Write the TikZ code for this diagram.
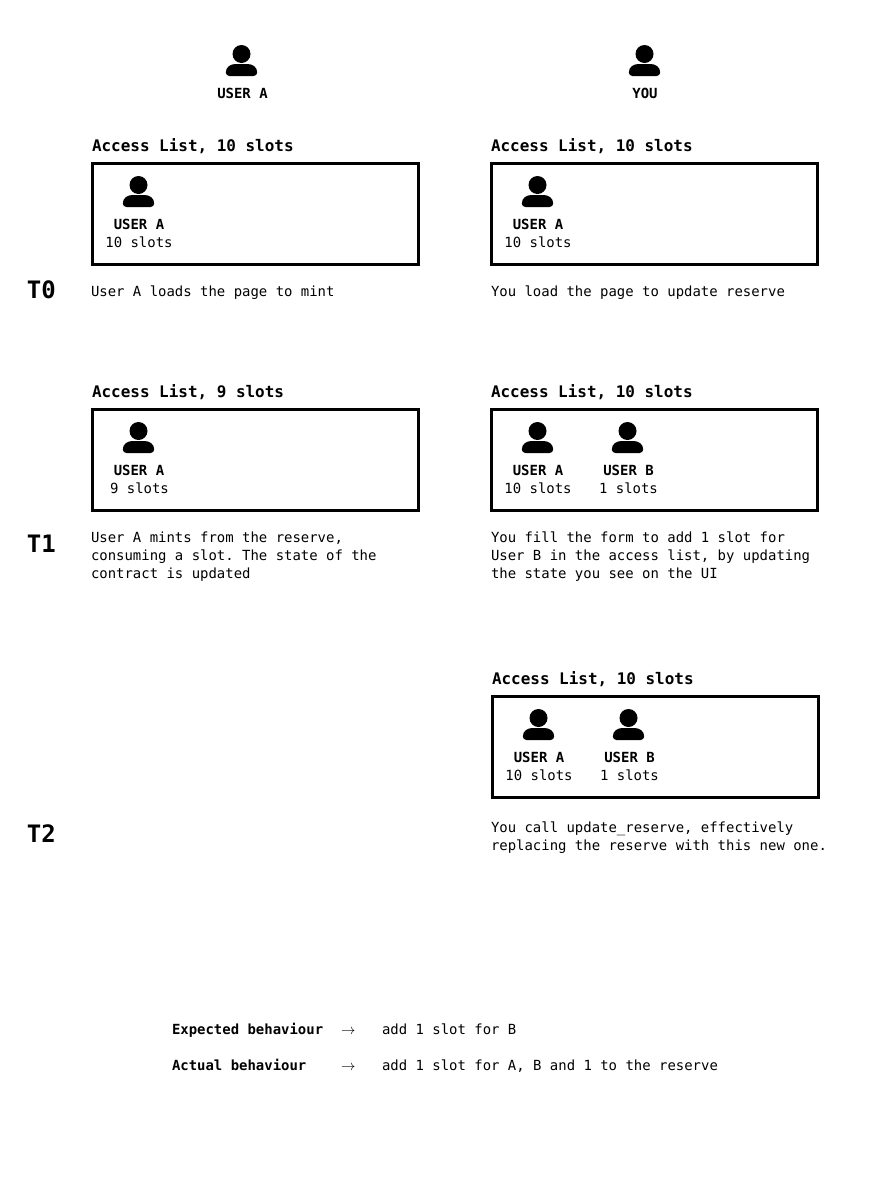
\documentclass[tikz,border=0pt]{standalone}
\usepackage{fontspec}
\setmainfont{DejaVu Sans Mono}
\newcommand{\firstline}{\rule{0pt}{12pt}}
\tikzset{
  x=1pt,y=-1pt,
  txt/.style={inner sep=0pt,outer sep=0pt,text=black},
  body/.style={txt,anchor=base west,font=\fontsize{13.95}{18}\selectfont\frenchspacing},
  bodyc/.style={txt,anchor=base,font=\fontsize{13.95}{18}\selectfont},
  strong/.style={txt,anchor=base west,font=\fontsize{13.95}{18}\selectfont\bfseries},
  namec/.style={txt,anchor=base,font=\fontsize{13.95}{18}\selectfont\bfseries},
  para/.style={txt,anchor=north west,align=left,font=\fontsize{13.95}{18}\selectfont\frenchspacing},
  heading/.style={txt,anchor=base west,font=\fontsize{15.95}{20}\selectfont\bfseries},
  timelabel/.style={txt,anchor=base west,font=\fontsize{24}{28}\selectfont\bfseries},
  arrowglyph/.style={txt,anchor=base west,font=\fontsize{14}{18}\selectfont},
  listbox/.style={draw=black,line width=3pt,fill=none},
  pics/person/.style={code={
    \fill[black] (0,0) circle[radius=9pt];
    \fill[black] (-15.7,18.5) .. controls (-15.7,13) and (-11,10) .. (-6,10) -- (6,10)
      .. controls (11,10) and (15.7,13) .. (15.7,18.5)
      .. controls (15.7,20.5) and (14,22) .. (12,22) -- (-12,22)
      .. controls (-14,22) and (-15.7,20.5) .. (-15.7,18.5) -- cycle;
  }}
}
\begin{document}
\begin{tikzpicture}
\useasboundingbox (0,0) rectangle (890,1184);
\fill[white] (0,0) rectangle (890,1184);
% Top persons
\pic at (241.5,54) {person};
\node[namec] (topa) at (242.5,98) {USER A};
\pic at (644.5,54) {person};
\node[namec] (topyou) at (645,98) {YOU};
% T0 left
\node[heading] (h0l) at (92,151) {Access List, 10 slots};
\draw[listbox] (92.5,163.5) rectangle (418.5,264.5);
\pic at (138.5,185) {person};
\node[namec] (a0l) at (139,229) {USER A};
\node[bodyc] (s0l) at (139,247) {10 slots};
\node[body] (d0l) at (91,296) {User A loads the page to mint};
% T0 right
\node[heading] (h0r) at (491,151) {Access List, 10 slots};
\draw[listbox] (491.5,163.5) rectangle (817.5,264.5);
\pic at (537.5,185) {person};
\node[namec] (a0r) at (538,229) {USER A};
\node[bodyc] (s0r) at (538,247) {10 slots};
\node[body] (d0r) at (491,296) {You load the page to update reserve};
\node[timelabel] (t0) at (27,298) {T0};
% T1 left
\node[heading] (h1l) at (92,397) {Access List, 9 slots};
\draw[listbox] (92.5,409.5) rectangle (418.5,510.5);
\pic at (138.5,431) {person};
\node[namec] (a1l) at (139,475) {USER A};
\node[bodyc] (s1l) at (139.5,493) {9 slots};
\node[para] (d1l) at (91,530) {\firstline User A mints from the reserve,\\consuming a slot. The state of the\\contract is updated};
% T1 right
\node[heading] (h1r) at (491,397) {Access List, 10 slots};
\draw[listbox] (491.5,409.5) rectangle (817.5,510.5);
\pic at (537.5,431) {person};
\node[namec] (a1r) at (538,475) {USER A};
\node[bodyc] (s1r) at (538,493) {10 slots};
\pic at (627.5,431) {person};
\node[namec] (b1r) at (628.5,475) {USER B};
\node[bodyc] (c1r) at (628.5,493) {1 slots};
\node[para] (d1r) at (491,530) {\firstline You fill the form to add 1 slot for\\User B in the access list, by updating\\the state you see on the UI};
\node[timelabel] (t1) at (27,552) {T1};
% T2
\node[heading] (h2r) at (492,684) {Access List, 10 slots};
\draw[listbox] (492.5,696.5) rectangle (818.5,797.5);
\pic at (538.5,718) {person};
\node[namec] (a2r) at (539,762) {USER A};
\node[bodyc] (s2r) at (539,780) {10 slots};
\pic at (628.5,718) {person};
\node[namec] (b2r) at (629.5,762) {USER B};
\node[bodyc] (c2r) at (629.5,780) {1 slots};
\node[para] (d2r) at (491,820) {\firstline You call update\_reserve, effectively\\replacing the reserve with this new one.};
\node[timelabel] (t2) at (27,842) {T2};
% Legend
\node[strong] (e1) at (172,1034) {Expected behaviour};
\node[arrowglyph] (e2) at (341,1034) {$\rightarrow$};
\node[body] (e3) at (382,1034) {add 1 slot for B};
\node[strong] (f1) at (172,1070) {Actual behaviour};
\node[arrowglyph] (f2) at (341,1070) {$\rightarrow$};
\node[body] (f3) at (382,1070) {add 1 slot for A, B and 1 to the reserve};
\end{tikzpicture}
\end{document}
